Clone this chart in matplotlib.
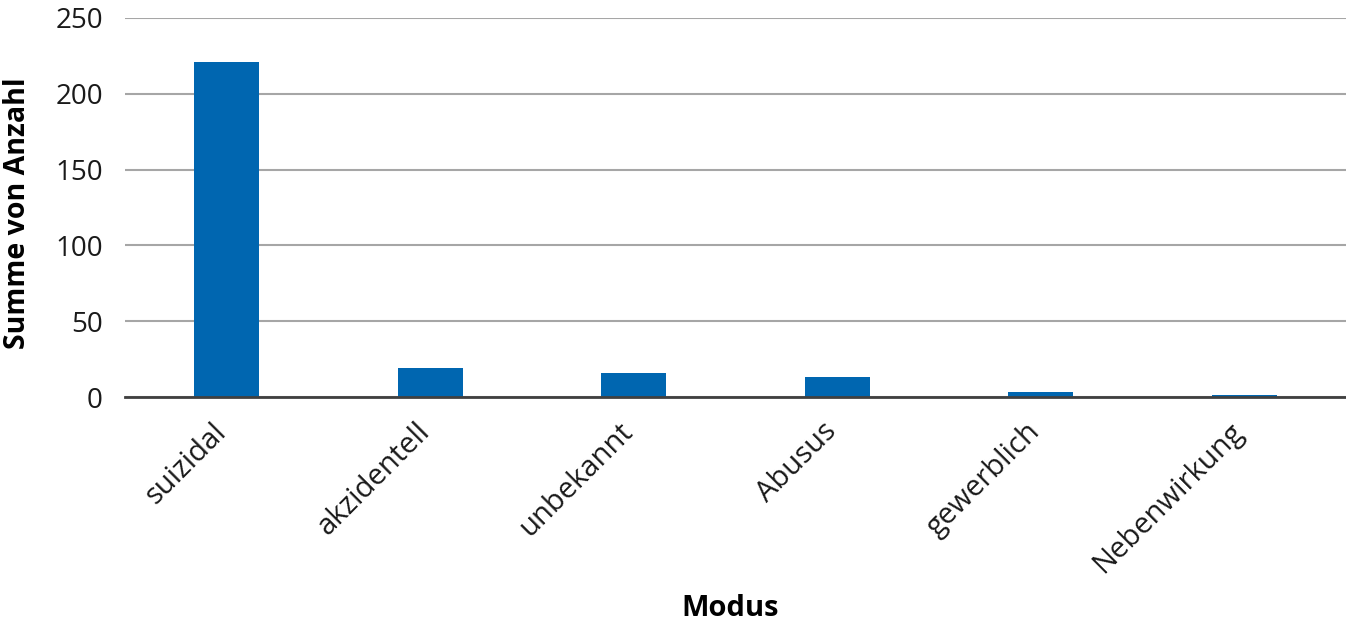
import matplotlib.pyplot as plt
import matplotlib.transforms as mtransforms
import numpy as np

categories = ['suizidal', 'akzidentell', 'unbekannt', 'Abusus', 'gewerblich', 'Nebenwirkung']
counts = [221, 19, 16, 13, 3, 1]

plt.rcParams['font.family'] = ['Open Sans', 'DejaVu Sans']

fig = plt.figure(figsize=(13.46, 6.26), dpi=100)
ax = fig.add_axes([125 / 1346, 1 - 397 / 626, 1 - 125 / 1346, 379 / 626])

x = np.arange(len(categories))
ax.bar(x, counts, width=0.32, color='#0066b0', zorder=3)

ax.set_xlim(-0.5, len(categories) - 0.5)
ax.set_ylim(0, 250)
ax.set_yticks([0, 50, 100, 150, 200, 250])
ax.yaxis.grid(True, color='#a6a6a6', linewidth=1.5, zorder=0)

for side in ['top', 'right', 'left']:
    ax.spines[side].set_visible(False)
ax.spines['bottom'].set_color('#404040')
ax.spines['bottom'].set_linewidth(2)
ax.spines['bottom'].set_zorder(4)

ax.tick_params(axis='both', length=0, labelsize=20, colors='#1a1a1a')
ax.tick_params(axis='y', pad=16)
ax.tick_params(axis='x', pad=22)
ax.set_xticks(x)
ax.set_xticklabels(categories, rotation=45, ha='right', va='center',
                   rotation_mode='anchor', fontsize=21)
# nudge the rotated labels so their ends sit under the ticks
shift = mtransforms.ScaledTranslation(-5 / 100, 0, fig.dpi_scale_trans)
for lbl in ax.get_xticklabels():
    lbl.set_transform(lbl.get_transform() + shift)

ax.set_ylabel('Summe von Anzahl', fontsize=20.5, fontweight='bold')
ax.yaxis.set_label_coords((32 - 125) / 1221, (397 - 213) / 379)
ax.set_xlabel('Modus', fontsize=21, fontweight='bold')
ax.xaxis.set_label_coords((730 - 125) / 1221, (397 - 594) / 379)

fig.savefig('out.png', dpi=100)
